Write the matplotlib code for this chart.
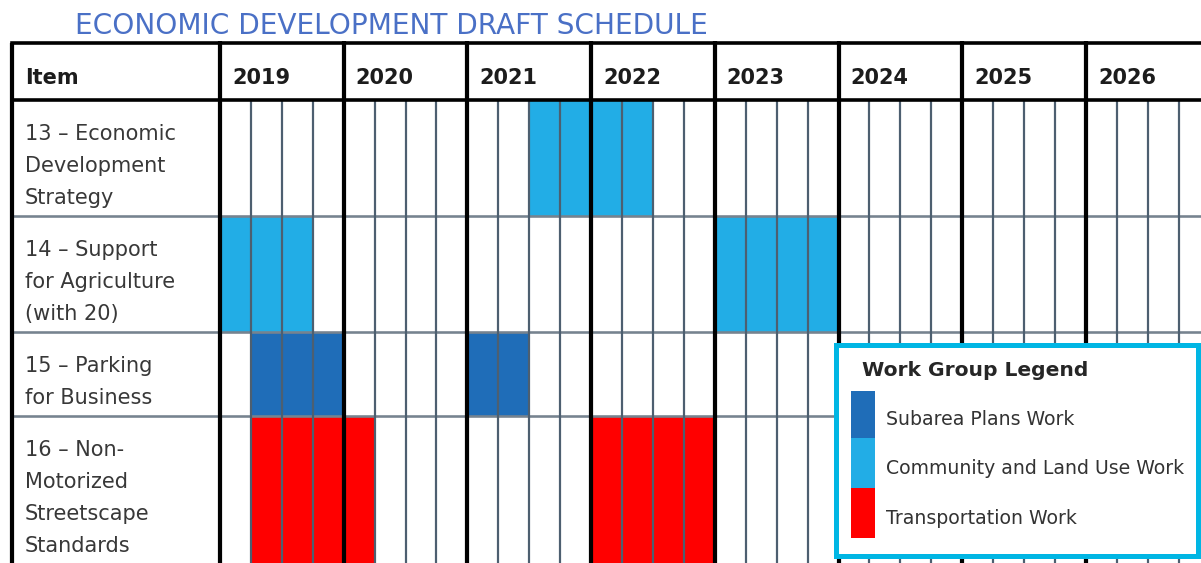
import matplotlib
matplotlib.use("Agg")
import matplotlib.pyplot as plt
from matplotlib.patches import Rectangle

# ---------------- data ----------------
title = "ECONOMIC DEVELOPMENT DRAFT SCHEDULE"
years = [2019, 2020, 2021, 2022, 2023, 2024, 2025, 2026]
quarters_per_year = 4
item_header = "Item"
items = [
    ["13 \u2013 Economic", "Development", "Strategy"],
    ["14 \u2013 Support", "for Agriculture", "(with 20)"],
    ["15 \u2013 Parking", "for Business"],
    ["16 \u2013 Non-", "Motorized", "Streetscape", "Standards"],
]
groups = ["Subarea Plans Work", "Community and Land Use Work", "Transportation Work"]
group_colors = ["#1f6db8", "#22ade6", "#ff0000"]
legend_title = "Work Group Legend"

# tasks: item index, work group, start (year, quarter), number of quarters
task_item = [0, 1, 1, 2, 2, 3, 3]
task_group = [1, 1, 1, 0, 0, 2, 2]
task_start_year = [2021, 2019, 2023, 2019, 2021, 2019, 2022]
task_start_q = [3, 1, 1, 2, 1, 2, 1]
task_quarters = [4, 3, 4, 3, 2, 4, 4]

# ---------------- layout (pixels) ----------------
W, H = 1201, 563
QW = 866 / 28.0           # quarter width in px
GRID_LEFT = 220           # px where first year starts
TABLE_LEFT = 12
TABLE_TOP = 43
HEADER_BOTTOM = 100
LINE_H = 32
ROW_PAD = 20

def qx(px):
    """pixel x -> quarter units (layout helper)"""
    return (px - GRID_LEFT) / QW

fig = plt.figure(figsize=(W / 100, H / 100), dpi=100)
ax = fig.add_axes([0, 0, 1, 1])
ax.set_xlim(qx(0), qx(W))
ax.set_ylim(H, 0)
ax.axis("off")

FONT = "DejaVu Sans"

# title
ax.text(qx(75), 26, title, fontsize=20.2, color="#4a70c6", family=FONT,
        va="center", ha="left")

# row boundaries
row_tops = []
y = HEADER_BOTTOM
for lines in items:
    row_tops.append(y)
    y += LINE_H * len(lines) + ROW_PAD
row_bottoms = row_tops[1:] + [y]
n_q = len(years) * quarters_per_year
xmax = qx(W) + 1

# bars
for it, g, sy, sq, nq in zip(task_item, task_group, task_start_year,
                             task_start_q, task_quarters):
    start = (years.index(sy)) * quarters_per_year + (sq - 1)
    top, bot = row_tops[it], row_bottoms[it]
    ax.bar(start, bot - top, width=nq, bottom=top, align="edge",
           color=group_colors[g], linewidth=0, zorder=1)

PT = 0.72  # points per px
bottom_px = H + 5

# quarter lines
for q in range(n_q):
    if q % quarters_per_year != 0:
        ax.plot([q, q], [HEADER_BOTTOM, bottom_px], color="#4d5f70",
                lw=2.2 * PT, zorder=3, solid_capstyle="butt")
# row lines
for yt in row_tops[1:]:
    ax.plot([qx(TABLE_LEFT), xmax], [yt, yt], color="#76838f", lw=2.6 * PT,
            zorder=2.5, solid_capstyle="butt")
# year lines
for i in range(len(years)):
    x = i * quarters_per_year
    ax.plot([x, x], [TABLE_TOP - 2, bottom_px], color="black", lw=4.2 * PT,
            zorder=4, solid_capstyle="butt")
# outer / header borders
ax.plot([qx(TABLE_LEFT), xmax], [TABLE_TOP, TABLE_TOP], color="black",
        lw=3.6 * PT, zorder=4, solid_capstyle="projecting")
ax.plot([qx(TABLE_LEFT), xmax], [HEADER_BOTTOM, HEADER_BOTTOM], color="black",
        lw=3.6 * PT, zorder=4, solid_capstyle="butt")
ax.plot([qx(TABLE_LEFT), qx(TABLE_LEFT)], [TABLE_TOP, bottom_px], color="black",
        lw=4.2 * PT, zorder=4, solid_capstyle="butt")

# header text
hy = (TABLE_TOP + HEADER_BOTTOM) / 2 + 6
ax.text(qx(25), hy, item_header, fontsize=15, fontweight="bold", color="#1c1c1c",
        family=FONT, va="center", ha="left")
for i, yr in enumerate(years):
    ax.text(i * quarters_per_year + qx(GRID_LEFT + 12), hy, str(yr), fontsize=15,
            fontweight="bold", color="#1c1c1c", family=FONT, va="center", ha="left")

# item labels
for lines, top in zip(items, row_tops):
    for k, line in enumerate(lines):
        ax.text(qx(25), top + 34 + k * LINE_H, line, fontsize=15, color="#383838",
                family=FONT, va="center", ha="left")

# legend box
lx0, ly0, lx1, ly1 = 835.5, 344.5, 1197.5, 555.5
lax = fig.add_axes([lx0 / W, 1 - ly1 / H, (lx1 - lx0) / W, (ly1 - ly0) / H])
lax.set_xlim(0, lx1 - lx0)
lax.set_ylim(ly1 - ly0, 0)
lax.set_xticks([])
lax.set_yticks([])
lax.set_facecolor("white")
for sp in lax.spines.values():
    sp.set_color("#00b6e4")
    sp.set_linewidth(5 * PT)
lax.text(26, 26, legend_title, fontsize=14.6, fontweight="bold", color="#262626",
         family=FONT, va="center", ha="left")
patch_top = 46
patch_h = [47, 50, 50]
py = patch_top
for g, (lab, col) in enumerate(zip(groups, group_colors)):
    lax.add_patch(Rectangle((15.5, py), 24, patch_h[g], facecolor=col, lw=0))
    lax.text(50, py + patch_h[g] * 0.62, lab, fontsize=13.6, color="#333333",
             family=FONT, va="center", ha="left")
    py += patch_h[g]

fig.savefig("out.png", dpi=100)
